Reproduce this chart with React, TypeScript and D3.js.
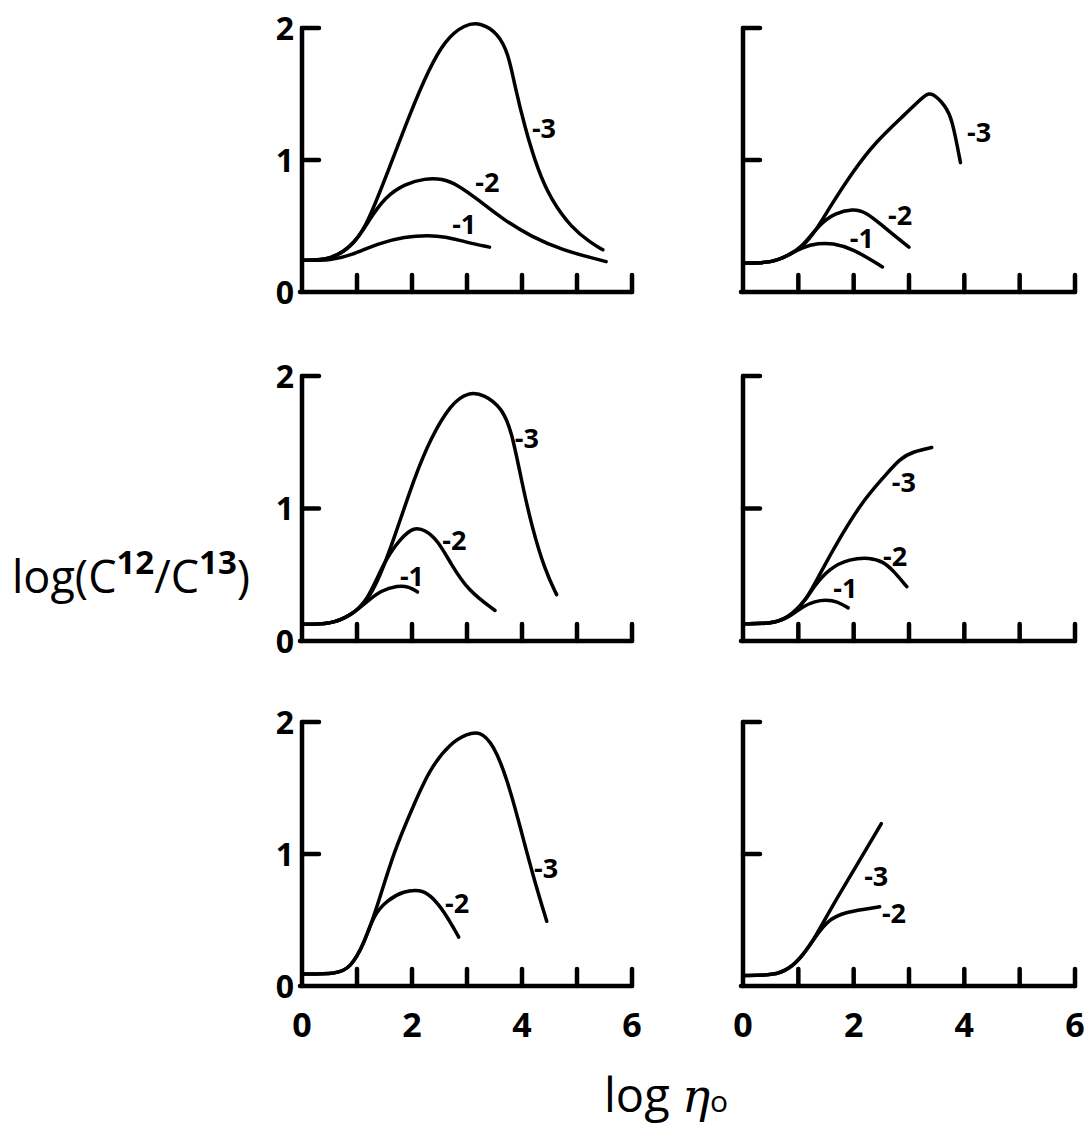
import React from "react";
import * as d3 from "d3";

type Pt = [number, number];

// x: log eta_o, y: log(C12/C13)
// Row 1, left
const a3: Pt[] = [[0, 0.24], [0.54, 0.24], [0.97, 0.37], [1.21, 0.54], [1.57, 0.92], [1.99, 1.38], [2.3, 1.68], [2.6, 1.91], [2.96, 2.03], [3.26, 2.04], [3.56, 1.96], [3.75, 1.81], [3.87, 1.56], [4.05, 1.25], [4.29, 0.92], [4.53, 0.7], [4.89, 0.49], [5.26, 0.37], [5.47, 0.32]];
const a2: Pt[] = [[0, 0.24], [0.54, 0.24], [0.97, 0.37], [1.21, 0.54], [1.51, 0.72], [1.87, 0.82], [2.24, 0.86], [2.54, 0.86], [2.84, 0.81], [3.2, 0.7], [3.69, 0.54], [4.17, 0.42], [4.71, 0.32], [5.53, 0.23]];
const a1: Pt[] = [[0, 0.24], [0.54, 0.24], [0.91, 0.28], [1.39, 0.37], [1.87, 0.42], [2.3, 0.43], [2.6, 0.42], [2.96, 0.38], [3.41, 0.34]];
// Row 1, right
const b3: Pt[] = [[0, 0.22], [0.53, 0.22], [0.83, 0.28], [1.07, 0.34], [1.31, 0.46], [1.55, 0.63], [1.98, 0.91], [2.4, 1.14], [2.94, 1.35], [3.3, 1.5], [3.42, 1.51], [3.66, 1.41], [3.78, 1.31], [3.93, 0.98]];
const b2: Pt[] = [[0, 0.22], [0.53, 0.22], [0.83, 0.28], [1.07, 0.34], [1.37, 0.51], [1.67, 0.6], [1.98, 0.63], [2.22, 0.61], [2.58, 0.48], [3.0, 0.34]];
const b1: Pt[] = [[0, 0.22], [0.53, 0.22], [0.83, 0.28], [1.07, 0.34], [1.37, 0.37], [1.61, 0.37], [1.98, 0.33], [2.52, 0.19]];
// Row 2, left
const c3: Pt[] = [[0, 0.126], [0.52, 0.126], [0.88, 0.19], [1.19, 0.3], [1.43, 0.5], [1.68, 0.78], [2.04, 1.23], [2.35, 1.54], [2.71, 1.79], [3.02, 1.88], [3.32, 1.86], [3.63, 1.76], [3.81, 1.59], [3.99, 1.21], [4.18, 0.86], [4.42, 0.53], [4.63, 0.35]];
const c2: Pt[] = [[0, 0.126], [0.52, 0.126], [0.88, 0.19], [1.19, 0.3], [1.49, 0.6], [1.8, 0.78], [2.04, 0.86], [2.23, 0.84], [2.47, 0.76], [2.71, 0.58], [3.02, 0.38], [3.51, 0.23]];
const c1: Pt[] = [[0, 0.126], [0.52, 0.126], [0.88, 0.19], [1.19, 0.3], [1.43, 0.38], [1.74, 0.42], [1.95, 0.41], [2.1, 0.37]];
// Row 2, right
const d3c: Pt[] = [[0, 0.13], [0.59, 0.13], [0.9, 0.2], [1.17, 0.33], [1.38, 0.5], [1.75, 0.78], [2.17, 1.06], [2.53, 1.23], [2.84, 1.38], [3.08, 1.43], [3.41, 1.46]];
const d2: Pt[] = [[0, 0.13], [0.59, 0.13], [0.9, 0.2], [1.17, 0.33], [1.26, 0.4], [1.56, 0.55], [1.93, 0.62], [2.29, 0.63], [2.53, 0.6], [2.72, 0.53], [2.96, 0.41]];
const d1: Pt[] = [[0, 0.13], [0.59, 0.13], [0.9, 0.2], [1.08, 0.26], [1.3, 0.3], [1.5, 0.31], [1.7, 0.3], [1.9, 0.25]];
// Row 3, left
const e3: Pt[] = [[0, 0.09], [0.64, 0.09], [0.88, 0.14], [1.12, 0.31], [1.36, 0.59], [1.67, 1.02], [2.03, 1.37], [2.33, 1.65], [2.7, 1.84], [3.0, 1.91], [3.24, 1.93], [3.48, 1.83], [3.73, 1.57], [3.97, 1.2], [4.21, 0.82], [4.45, 0.49]];
const e2: Pt[] = [[0, 0.09], [0.64, 0.09], [0.88, 0.14], [1.12, 0.31], [1.3, 0.54], [1.55, 0.65], [1.85, 0.72], [2.15, 0.73], [2.33, 0.69], [2.58, 0.57], [2.85, 0.37]];
// Row 3, right
const f3: Pt[] = [[0, 0.08], [0.56, 0.08], [0.84, 0.13], [1.08, 0.23], [1.32, 0.38], [1.62, 0.61], [2.05, 0.91], [2.5, 1.23]];
const f2: Pt[] = [[0, 0.08], [0.56, 0.08], [0.84, 0.13], [1.08, 0.23], [1.32, 0.38], [1.56, 0.51], [1.87, 0.56], [2.17, 0.58], [2.47, 0.6]];

// Curve labels: [text, x, y] at the label's left edge / vertical centre
type Lab = [string, number, number];
const aLabels: Lab[] = [["-3", 4.18, 1.24], ["-2", 3.15, 0.83], ["-1", 2.73, 0.51]];
const bLabels: Lab[] = [["-3", 4.05, 1.21], ["-2", 2.62, 0.58], ["-1", 1.93, 0.41]];
const cLabels: Lab[] = [["-3", 3.87, 1.53], ["-2", 2.55, 0.76], ["-1", 1.78, 0.49]];
const dLabels: Lab[] = [["-3", 2.69, 1.2], ["-2", 2.53, 0.64], ["-1", 1.63, 0.4]];
const eLabels: Lab[] = [["-3", 4.22, 0.89], ["-2", 2.6, 0.63]];
const fLabels: Lab[] = [["-3", 2.19, 0.83], ["-2", 2.51, 0.55]];

const xTickValues = [1, 2, 3, 4, 5, 6];
const xTickLabels = [0, 2, 4, 6];
const yTickValues = [1, 2];
const yTickLabels = [0, 1, 2];

// Panel frames in page pixels
const cols = [
  { x0: 302, x1: 632 },
  { x0: 743, x1: 1075 },
];
const rows = [
  { y0: 292, y2: 28 },
  { y0: 641, y2: 376 },
  { y0: 986, y2: 722 },
];

const panels = [
  { r: 0, c: 0, series: [a3, a2, a1], labels: aLabels },
  { r: 0, c: 1, series: [b3, b2, b1], labels: bLabels },
  { r: 1, c: 0, series: [c3, c2, c1], labels: cLabels },
  { r: 1, c: 1, series: [d3c, d2, d1], labels: dLabels },
  { r: 2, c: 0, series: [e3, e2], labels: eLabels },
  { r: 2, c: 1, series: [f3, f2], labels: fLabels },
];

const FONT = "'Open Sans', 'DejaVu Sans', sans-serif";
const TICK = 17;

function Panel({ r, c, series, labels }: any) {
  const x = d3.scaleLinear().domain([0, 6]).range([cols[c].x0, cols[c].x1]);
  const y = d3.scaleLinear().domain([0, 2]).range([rows[r].y0, rows[r].y2]);
  const line = d3
    .line<Pt>()
    .x((d) => x(d[0]))
    .y((d) => y(d[1]))
    .curve(d3.curveBasis);
  const showY = c === 0;
  const showX = r === 2;
  return (
    <g>
      {/* axes */}
      <line x1={x(0)} y1={y(0)} x2={x(0)} y2={y(2)} stroke="#000" strokeWidth={4.5} strokeLinecap="round" />
      <line x1={x(0) - 2} y1={y(0)} x2={x(6)} y2={y(0)} stroke="#000" strokeWidth={4.5} strokeLinecap="round" />
      {yTickValues.map((v) => (
        <line key={"yt" + v} x1={x(0)} y1={y(v)} x2={x(0) + TICK} y2={y(v)} stroke="#000" strokeWidth={4.5} strokeLinecap="round" />
      ))}
      {xTickValues.map((v) => (
        <line key={"xt" + v} x1={x(v)} y1={y(0)} x2={x(v)} y2={y(0) - TICK} stroke="#000" strokeWidth={4.5} strokeLinecap="round" />
      ))}
      {showY &&
        yTickLabels.map((v) => (
          <text key={"yl" + v} x={x(0) - 17} y={y(v)} dy="0.36em" textAnchor="middle" fontFamily={FONT} fontWeight={700} fontSize={32}>
            {v}
          </text>
        ))}
      {showX &&
        xTickLabels.map((v) => (
          <text key={"xl" + v} x={x(v)} y={y(0) + 51} textAnchor="middle" fontFamily={FONT} fontWeight={700} fontSize={34}>
            {v}
          </text>
        ))}
      {/* curves */}
      {series.map((s: Pt[], i: number) => (
        <path key={"s" + i} d={line(s) || ""} fill="none" stroke="#000" strokeWidth={3.5} strokeLinecap="round" strokeLinejoin="round" />
      ))}
      {labels.map((l: Lab, i: number) => (
        <text key={"l" + i} x={x(l[1])} y={y(l[2])} dy="0.36em" fontFamily={FONT} fontWeight={700} fontSize={27}>
          {l[0]}
        </text>
      ))}
    </g>
  );
}

export default function App() {
  return (
    <svg
      width={1086}
      height={1131}
      viewBox="0 0 1086 1131"
      style={{ position: "absolute", left: 0, top: 0, background: "#fff" }}
    >
      <rect width={1086} height={1131} fill="#fff" />
      {panels.map((p, i) => (
        <Panel key={i} {...p} />
      ))}
      <text x={12} y={593} fontFamily={FONT} fontWeight={500} fontSize={45}>
        log(C<tspan fontSize={33} fontWeight={700} dy={-19}>12</tspan>
        <tspan dy={19}>/C</tspan>
        <tspan fontSize={33} fontWeight={700} dy={-19}>13</tspan>
        <tspan dy={19}>)</tspan>
      </text>
      <text x={604} y={1112} fontFamily={FONT} fontWeight={500} fontSize={47}>
        log <tspan fontFamily="'DejaVu Serif', serif" fontStyle="italic">η</tspan>
        <tspan fontSize={30}>o</tspan>
      </text>
    </svg>
  );
}
